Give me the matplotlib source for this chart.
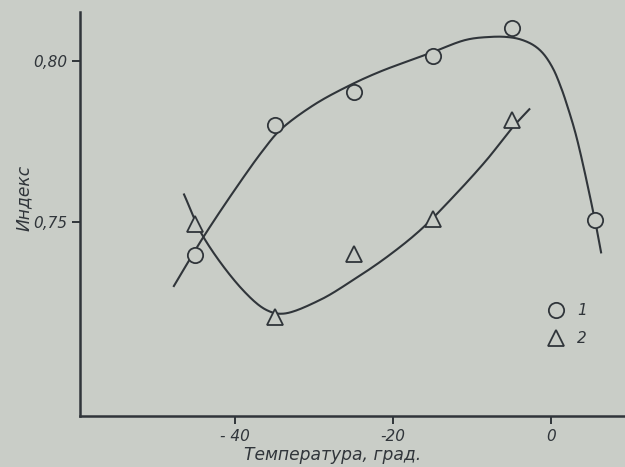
import numpy as np
import matplotlib
matplotlib.use("Agg")
import matplotlib.pyplot as plt
from matplotlib.lines import Line2D

# ---- data ----
temp_1 = [-45, -35, -25, -15, -5, 5.5]
index_1 = [0.7398, 0.7801, 0.7905, 0.8017, 0.8102, 0.7506]

temp_2 = [-45, -35, -25, -15, -5]
index_2 = [0.7494, 0.7206, 0.7400, 0.7511, 0.7817]

# hand-drawn fitted curves
curve1_x = [-47.8, -44.0, -39.2, -36.4, -34.3, -30.1, -25.9, -21.7, -15.4, -10.8, -7.8, -5.7, -4.0, -2.3, -1.06,
            0.2, 1.26, 1.9, 3.16, 5.5, 6.3]
curve1_y = [0.7299, 0.7454, 0.7630, 0.7725, 0.7786, 0.7863, 0.7920, 0.7967, 0.8024, 0.8066, 0.8075, 0.8075, 0.8068,
            0.8050, 0.8024, 0.7977, 0.7915, 0.7869, 0.7765, 0.7506, 0.7403]

curve2_x = [-46.5, -44.0, -39.0, -36.0, -33.9, -29.3, -25.1, -20.8, -16.6, -12.4, -8.2, -4.85, -2.7]
curve2_y = [0.7589, 0.7454, 0.7289, 0.7227, 0.7216, 0.7258, 0.7320, 0.7392, 0.7475, 0.7579, 0.7693, 0.7796, 0.7853]

x_ticks = [-40, -20, 0]
x_ticklabels = ["- 40", "-20", "0"]
y_ticks = [0.75, 0.80]
y_ticklabels = ["0,75", "0,80"]

legend_labels = ["1", "2"]
x_label = "Температура, град."
y_label = "Индекс"

BG = "#c9cdc7"
INK = "#30353a"

XLIM = (-59.6, 9.3)
YLIM = (0.6898, 0.8152)


def smooth(xs, ys, n=24):
    """Centripetal Catmull-Rom through the traced points (drawing only)."""
    sx = 545.0 / (XLIM[1] - XLIM[0])
    sy = 404.0 / (YLIM[1] - YLIM[0])
    p = np.column_stack([np.asarray(xs) * sx, np.asarray(ys) * sy]).astype(float)
    p = np.vstack([2 * p[0] - p[1], p, 2 * p[-1] - p[-2]])
    out = []
    for i in range(1, len(p) - 2):
        P0, P1, P2, P3 = p[i - 1], p[i], p[i + 1], p[i + 2]
        t0 = 0.0
        t1 = t0 + np.linalg.norm(P1 - P0) ** 0.5
        t2 = t1 + np.linalg.norm(P2 - P1) ** 0.5
        t3 = t2 + np.linalg.norm(P3 - P2) ** 0.5
        t = np.linspace(t1, t2, n, endpoint=False)[:, None]
        A1 = (t1 - t) / (t1 - t0) * P0 + (t - t0) / (t1 - t0) * P1
        A2 = (t2 - t) / (t2 - t1) * P1 + (t - t1) / (t2 - t1) * P2
        A3 = (t3 - t) / (t3 - t2) * P2 + (t - t2) / (t3 - t2) * P3
        B1 = (t2 - t) / (t2 - t0) * A1 + (t - t0) / (t2 - t0) * A2
        B2 = (t3 - t) / (t3 - t1) * A2 + (t - t1) / (t3 - t1) * A3
        C = (t2 - t) / (t2 - t1) * B1 + (t - t1) / (t2 - t1) * B2
        out.append(C)
    out.append(p[-2][None, :])
    out = np.vstack(out)
    return out[:, 0] / sx, out[:, 1] / sy


plt.rcParams['font.family'] = ['DejaVu Sans']
fig = plt.figure(figsize=(6.25, 4.67), dpi=100, facecolor=BG)
ax = fig.add_axes([0.128, 0.109, 0.872, 0.865], facecolor=BG)

cx, cy = smooth(curve1_x, curve1_y)
ax.plot(cx, cy, color=INK, lw=1.5, zorder=2, solid_capstyle='butt')
cx, cy = smooth(curve2_x, curve2_y)
ax.plot(cx, cy, color=INK, lw=1.5, zorder=2, solid_capstyle='butt')

ax.plot(temp_1, index_1, linestyle='none', marker='o', markersize=11, markerfacecolor=BG,
        markeredgecolor=INK, markeredgewidth=1.3, zorder=3)
ax.plot(temp_2, index_2, linestyle='none', marker='^', markersize=11, markerfacecolor=BG,
        markeredgecolor=INK, markeredgewidth=1.3, zorder=3)

ax.set_xlim(*XLIM)
ax.set_ylim(*YLIM)

for s in ['top', 'right']:
    ax.spines[s].set_visible(False)
for s in ['left', 'bottom']:
    ax.spines[s].set_color(INK)
    ax.spines[s].set_linewidth(1.8)

ax.set_xticks(x_ticks)
ax.set_xticklabels(x_ticklabels, fontstyle='italic', fontsize=11, color=INK)
ax.set_yticks(y_ticks)
ax.set_yticklabels(y_ticklabels, fontstyle='italic', fontsize=11, color=INK)
ax.tick_params(axis='x', direction='out', length=6, width=1.4, color=INK, pad=3)
ax.tick_params(axis='y', direction='out', length=6, width=1.4, color=INK, pad=3)

ax.set_xlabel(x_label, fontstyle='italic', fontsize=12.3, color=INK)
ax.xaxis.set_label_coords(0.464, -0.073)
ax.set_ylabel(y_label, fontstyle='italic', fontsize=12.3, color=INK)
ax.yaxis.set_label_coords(-0.086, 0.54)

handles = [
    Line2D([], [], linestyle='none', marker='o', markersize=11, markerfacecolor=BG,
           markeredgecolor=INK, markeredgewidth=1.3),
    Line2D([], [], linestyle='none', marker='^', markersize=11, markerfacecolor=BG,
           markeredgecolor=INK, markeredgewidth=1.3),
]
leg = ax.legend(handles, legend_labels, frameon=False, loc='center left',
                bbox_to_anchor=(0.845, 0.227), handlelength=1.0, handletextpad=0.9,
                labelspacing=0.85, borderpad=0, prop={'style': 'italic', 'size': 11})
for t in leg.get_texts():
    t.set_color(INK)

fig.savefig("out.png", dpi=100, facecolor=BG)
